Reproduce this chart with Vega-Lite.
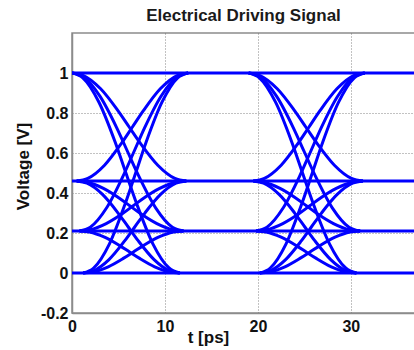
{
  "$schema": "https://vega.github.io/schema/vega-lite/v6.json",
  "width": 343,
  "height": 280,
  "autosize": {"type": "none"},
  "padding": {"left": 72, "top": 33, "right": 0, "bottom": 37},
  "background": "white",
  "title": {"text": "Electrical Driving Signal", "font": "Liberation Sans", "fontSize": 17, "fontWeight": "bold", "color": "#1a1a1a", "anchor": "middle", "offset": 8},
  "config": {
    "view": {"stroke": "#8c8c8c", "strokeWidth": 1.5},
    "axis": {"labelFont": "Liberation Sans", "labelFontSize": 16, "labelFontWeight": "bold", "labelColor": "#111111", "titleFont": "Liberation Sans", "titleFontSize": 17, "titleFontWeight": "bold", "titleColor": "#111111", "domainColor": "#8c8c8c", "domainWidth": 1.5, "ticks": false, "gridColor": "#666666", "gridDash": [1, 2], "gridWidth": 0.8, "labelOverlap": false, "labelFlush": false}
  },
  "data": {"values": [
    {"curve": "h1", "t": 0, "v": 1}, {"curve": "h1", "t": 37, "v": 1},
    {"curve": "h2", "t": 0, "v": 0.46}, {"curve": "h2", "t": 37, "v": 0.46},
    {"curve": "h3", "t": 0, "v": 0.21}, {"curve": "h3", "t": 37, "v": 0.21},
    {"curve": "h4", "t": 0, "v": 0}, {"curve": "h4", "t": 37, "v": 0},

    {"curve": "a1", "t": 0, "v": 1}, {"curve": "a1", "t": 1.23, "v": 0.987}, {"curve": "a1", "t": 3.08, "v": 0.921}, {"curve": "a1", "t": 4.92, "v": 0.813}, {"curve": "a1", "t": 6.15, "v": 0.73}, {"curve": "a1", "t": 7.38, "v": 0.647}, {"curve": "a1", "t": 9.23, "v": 0.539}, {"curve": "a1", "t": 11.07, "v": 0.473}, {"curve": "a1", "t": 12.3, "v": 0.46},
    {"curve": "a2", "t": 0, "v": 1}, {"curve": "a2", "t": 1.2, "v": 0.981}, {"curve": "a2", "t": 3, "v": 0.884}, {"curve": "a2", "t": 4.8, "v": 0.727}, {"curve": "a2", "t": 6, "v": 0.605}, {"curve": "a2", "t": 7.2, "v": 0.483}, {"curve": "a2", "t": 9, "v": 0.326}, {"curve": "a2", "t": 10.8, "v": 0.229}, {"curve": "a2", "t": 12, "v": 0.21},
    {"curve": "a3", "t": 0, "v": 1}, {"curve": "a3", "t": 1.16, "v": 0.976}, {"curve": "a3", "t": 2.9, "v": 0.854}, {"curve": "a3", "t": 4.64, "v": 0.655}, {"curve": "a3", "t": 5.8, "v": 0.5}, {"curve": "a3", "t": 6.96, "v": 0.346}, {"curve": "a3", "t": 8.7, "v": 0.146}, {"curve": "a3", "t": 10.44, "v": 0.025}, {"curve": "a3", "t": 11.6, "v": 0},
    {"curve": "a4", "t": 0.5, "v": 0.46}, {"curve": "a4", "t": 1.7, "v": 0.473}, {"curve": "a4", "t": 3.5, "v": 0.539}, {"curve": "a4", "t": 5.3, "v": 0.647}, {"curve": "a4", "t": 6.5, "v": 0.73}, {"curve": "a4", "t": 7.7, "v": 0.813}, {"curve": "a4", "t": 9.5, "v": 0.921}, {"curve": "a4", "t": 11.3, "v": 0.987}, {"curve": "a4", "t": 12.5, "v": 1},
    {"curve": "a5", "t": 0.5, "v": 0.46}, {"curve": "a5", "t": 1.65, "v": 0.454}, {"curve": "a5", "t": 3.38, "v": 0.423}, {"curve": "a5", "t": 5.1, "v": 0.374}, {"curve": "a5", "t": 6.25, "v": 0.335}, {"curve": "a5", "t": 7.4, "v": 0.296}, {"curve": "a5", "t": 9.13, "v": 0.247}, {"curve": "a5", "t": 10.85, "v": 0.216}, {"curve": "a5", "t": 12, "v": 0.21},
    {"curve": "a6", "t": 0.5, "v": 0.46}, {"curve": "a6", "t": 1.61, "v": 0.449}, {"curve": "a6", "t": 3.28, "v": 0.393}, {"curve": "a6", "t": 4.94, "v": 0.301}, {"curve": "a6", "t": 6.05, "v": 0.23}, {"curve": "a6", "t": 7.16, "v": 0.159}, {"curve": "a6", "t": 8.83, "v": 0.067}, {"curve": "a6", "t": 10.49, "v": 0.011}, {"curve": "a6", "t": 11.6, "v": 0},
    {"curve": "a7", "t": 0.8, "v": 0.21}, {"curve": "a7", "t": 1.97, "v": 0.229}, {"curve": "a7", "t": 3.73, "v": 0.326}, {"curve": "a7", "t": 5.48, "v": 0.483}, {"curve": "a7", "t": 6.65, "v": 0.605}, {"curve": "a7", "t": 7.82, "v": 0.727}, {"curve": "a7", "t": 9.58, "v": 0.884}, {"curve": "a7", "t": 11.33, "v": 0.981}, {"curve": "a7", "t": 12.5, "v": 1},
    {"curve": "a8", "t": 0.8, "v": 0.21}, {"curve": "a8", "t": 1.95, "v": 0.216}, {"curve": "a8", "t": 3.68, "v": 0.247}, {"curve": "a8", "t": 5.4, "v": 0.296}, {"curve": "a8", "t": 6.55, "v": 0.335}, {"curve": "a8", "t": 7.7, "v": 0.374}, {"curve": "a8", "t": 9.43, "v": 0.423}, {"curve": "a8", "t": 11.15, "v": 0.454}, {"curve": "a8", "t": 12.3, "v": 0.46},
    {"curve": "a9", "t": 0.8, "v": 0.21}, {"curve": "a9", "t": 1.88, "v": 0.205}, {"curve": "a9", "t": 3.5, "v": 0.179}, {"curve": "a9", "t": 5.12, "v": 0.137}, {"curve": "a9", "t": 6.2, "v": 0.105}, {"curve": "a9", "t": 7.28, "v": 0.073}, {"curve": "a9", "t": 8.9, "v": 0.031}, {"curve": "a9", "t": 10.52, "v": 0.005}, {"curve": "a9", "t": 11.6, "v": 0},
    {"curve": "a10", "t": 1.2, "v": 0}, {"curve": "a10", "t": 2.33, "v": 0.025}, {"curve": "a10", "t": 4.03, "v": 0.146}, {"curve": "a10", "t": 5.72, "v": 0.346}, {"curve": "a10", "t": 6.85, "v": 0.5}, {"curve": "a10", "t": 7.98, "v": 0.655}, {"curve": "a10", "t": 9.68, "v": 0.854}, {"curve": "a10", "t": 11.37, "v": 0.976}, {"curve": "a10", "t": 12.5, "v": 1},
    {"curve": "a11", "t": 1.2, "v": 0}, {"curve": "a11", "t": 2.31, "v": 0.011}, {"curve": "a11", "t": 3.98, "v": 0.067}, {"curve": "a11", "t": 5.64, "v": 0.159}, {"curve": "a11", "t": 6.75, "v": 0.23}, {"curve": "a11", "t": 7.86, "v": 0.301}, {"curve": "a11", "t": 9.53, "v": 0.393}, {"curve": "a11", "t": 11.19, "v": 0.449}, {"curve": "a11", "t": 12.3, "v": 0.46},
    {"curve": "a12", "t": 1.2, "v": 0}, {"curve": "a12", "t": 2.28, "v": 0.005}, {"curve": "a12", "t": 3.9, "v": 0.031}, {"curve": "a12", "t": 5.52, "v": 0.073}, {"curve": "a12", "t": 6.6, "v": 0.105}, {"curve": "a12", "t": 7.68, "v": 0.137}, {"curve": "a12", "t": 9.3, "v": 0.179}, {"curve": "a12", "t": 10.92, "v": 0.205}, {"curve": "a12", "t": 12, "v": 0.21},

    {"curve": "b1", "t": 19, "v": 1}, {"curve": "b1", "t": 20.23, "v": 0.987}, {"curve": "b1", "t": 22.08, "v": 0.921}, {"curve": "b1", "t": 23.92, "v": 0.813}, {"curve": "b1", "t": 25.15, "v": 0.73}, {"curve": "b1", "t": 26.38, "v": 0.647}, {"curve": "b1", "t": 28.23, "v": 0.539}, {"curve": "b1", "t": 30.07, "v": 0.473}, {"curve": "b1", "t": 31.3, "v": 0.46},
    {"curve": "b2", "t": 19, "v": 1}, {"curve": "b2", "t": 20.2, "v": 0.981}, {"curve": "b2", "t": 22, "v": 0.884}, {"curve": "b2", "t": 23.8, "v": 0.727}, {"curve": "b2", "t": 25, "v": 0.605}, {"curve": "b2", "t": 26.2, "v": 0.483}, {"curve": "b2", "t": 28, "v": 0.326}, {"curve": "b2", "t": 29.8, "v": 0.229}, {"curve": "b2", "t": 31, "v": 0.21},
    {"curve": "b3", "t": 19, "v": 1}, {"curve": "b3", "t": 20.16, "v": 0.976}, {"curve": "b3", "t": 21.9, "v": 0.854}, {"curve": "b3", "t": 23.64, "v": 0.655}, {"curve": "b3", "t": 24.8, "v": 0.5}, {"curve": "b3", "t": 25.96, "v": 0.346}, {"curve": "b3", "t": 27.7, "v": 0.146}, {"curve": "b3", "t": 29.44, "v": 0.025}, {"curve": "b3", "t": 30.6, "v": 0},
    {"curve": "b4", "t": 19.5, "v": 0.46}, {"curve": "b4", "t": 20.7, "v": 0.473}, {"curve": "b4", "t": 22.5, "v": 0.539}, {"curve": "b4", "t": 24.3, "v": 0.647}, {"curve": "b4", "t": 25.5, "v": 0.73}, {"curve": "b4", "t": 26.7, "v": 0.813}, {"curve": "b4", "t": 28.5, "v": 0.921}, {"curve": "b4", "t": 30.3, "v": 0.987}, {"curve": "b4", "t": 31.5, "v": 1},
    {"curve": "b5", "t": 19.5, "v": 0.46}, {"curve": "b5", "t": 20.65, "v": 0.454}, {"curve": "b5", "t": 22.38, "v": 0.423}, {"curve": "b5", "t": 24.1, "v": 0.374}, {"curve": "b5", "t": 25.25, "v": 0.335}, {"curve": "b5", "t": 26.4, "v": 0.296}, {"curve": "b5", "t": 28.13, "v": 0.247}, {"curve": "b5", "t": 29.85, "v": 0.216}, {"curve": "b5", "t": 31, "v": 0.21},
    {"curve": "b6", "t": 19.5, "v": 0.46}, {"curve": "b6", "t": 20.61, "v": 0.449}, {"curve": "b6", "t": 22.28, "v": 0.393}, {"curve": "b6", "t": 23.94, "v": 0.301}, {"curve": "b6", "t": 25.05, "v": 0.23}, {"curve": "b6", "t": 26.16, "v": 0.159}, {"curve": "b6", "t": 27.83, "v": 0.067}, {"curve": "b6", "t": 29.49, "v": 0.011}, {"curve": "b6", "t": 30.6, "v": 0},
    {"curve": "b7", "t": 19.8, "v": 0.21}, {"curve": "b7", "t": 20.97, "v": 0.229}, {"curve": "b7", "t": 22.73, "v": 0.326}, {"curve": "b7", "t": 24.48, "v": 0.483}, {"curve": "b7", "t": 25.65, "v": 0.605}, {"curve": "b7", "t": 26.82, "v": 0.727}, {"curve": "b7", "t": 28.58, "v": 0.884}, {"curve": "b7", "t": 30.33, "v": 0.981}, {"curve": "b7", "t": 31.5, "v": 1},
    {"curve": "b8", "t": 19.8, "v": 0.21}, {"curve": "b8", "t": 20.95, "v": 0.216}, {"curve": "b8", "t": 22.68, "v": 0.247}, {"curve": "b8", "t": 24.4, "v": 0.296}, {"curve": "b8", "t": 25.55, "v": 0.335}, {"curve": "b8", "t": 26.7, "v": 0.374}, {"curve": "b8", "t": 28.43, "v": 0.423}, {"curve": "b8", "t": 30.15, "v": 0.454}, {"curve": "b8", "t": 31.3, "v": 0.46},
    {"curve": "b9", "t": 19.8, "v": 0.21}, {"curve": "b9", "t": 20.88, "v": 0.205}, {"curve": "b9", "t": 22.5, "v": 0.179}, {"curve": "b9", "t": 24.12, "v": 0.137}, {"curve": "b9", "t": 25.2, "v": 0.105}, {"curve": "b9", "t": 26.28, "v": 0.073}, {"curve": "b9", "t": 27.9, "v": 0.031}, {"curve": "b9", "t": 29.52, "v": 0.005}, {"curve": "b9", "t": 30.6, "v": 0},
    {"curve": "b10", "t": 20.2, "v": 0}, {"curve": "b10", "t": 21.33, "v": 0.025}, {"curve": "b10", "t": 23.03, "v": 0.146}, {"curve": "b10", "t": 24.72, "v": 0.346}, {"curve": "b10", "t": 25.85, "v": 0.5}, {"curve": "b10", "t": 26.98, "v": 0.655}, {"curve": "b10", "t": 28.68, "v": 0.854}, {"curve": "b10", "t": 30.37, "v": 0.976}, {"curve": "b10", "t": 31.5, "v": 1},
    {"curve": "b11", "t": 20.2, "v": 0}, {"curve": "b11", "t": 21.31, "v": 0.011}, {"curve": "b11", "t": 22.98, "v": 0.067}, {"curve": "b11", "t": 24.64, "v": 0.159}, {"curve": "b11", "t": 25.75, "v": 0.23}, {"curve": "b11", "t": 26.86, "v": 0.301}, {"curve": "b11", "t": 28.53, "v": 0.393}, {"curve": "b11", "t": 30.19, "v": 0.449}, {"curve": "b11", "t": 31.3, "v": 0.46},
    {"curve": "b12", "t": 20.2, "v": 0}, {"curve": "b12", "t": 21.28, "v": 0.005}, {"curve": "b12", "t": 22.9, "v": 0.031}, {"curve": "b12", "t": 24.52, "v": 0.073}, {"curve": "b12", "t": 25.6, "v": 0.105}, {"curve": "b12", "t": 26.68, "v": 0.137}, {"curve": "b12", "t": 28.3, "v": 0.179}, {"curve": "b12", "t": 29.92, "v": 0.205}, {"curve": "b12", "t": 31, "v": 0.21}
  ]},
  "mark": {"type": "line", "color": "#0000ff", "strokeWidth": 3, "interpolate": "monotone", "clip": true},
  "encoding": {
    "x": {"field": "t", "type": "quantitative", "scale": {"domain": [0, 36.9], "nice": false, "zero": false},
      "axis": {"values": [0, 10, 20, 30], "title": "t [ps]", "labelPadding": 5, "titleX": 136, "titleY": 16, "grid": true, "format": "d"}},
    "y": {"field": "v", "type": "quantitative", "scale": {"domain": [-0.2, 1.2], "nice": false, "zero": false},
      "axis": {"values": [-0.2, 0, 0.2, 0.4, 0.6, 0.8, 1], "title": "Voltage [V]", "labelPadding": 4, "labelExpr": "replace(format(datum.value, '.1~f'), '\u2212', '-')", "titleX": -40, "titleY": 133, "grid": true}},
    "detail": {"field": "curve", "type": "nominal"}
  }
}
